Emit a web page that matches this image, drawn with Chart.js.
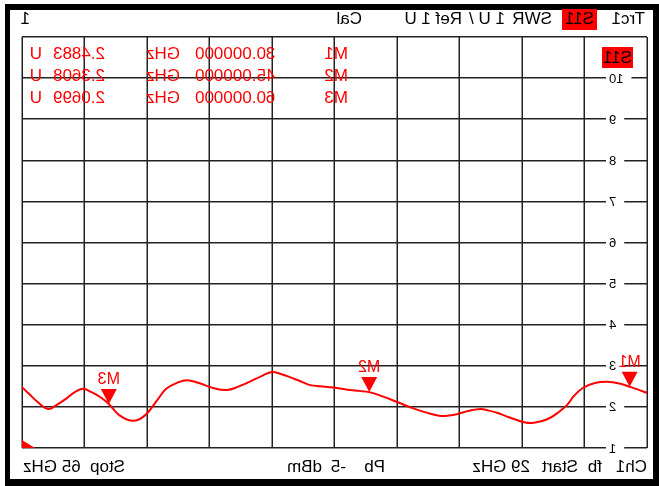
<!DOCTYPE html>
<html>
<head>
<meta charset="utf-8">
<style>
html, body { margin: 0; padding: 0; background: #fff; }
#wrap { width: 659px; height: 486px; transform: scaleX(-1); }
canvas { display: block; }
</style>
<script src="https://cdn.jsdelivr.net/npm/chart.js"></script>
</head>
<body>
<div id="wrap"><canvas id="vna" width="659" height="486"></canvas></div>
<script>
// sweep 29..65 GHz, SWR trace (screen is mirrored, like the photo)
const startGHz = 29;
const stopGHz = 65;
const freqGHz = [29.0, 29.5, 30.0, 30.6, 31.3, 32.0, 32.7, 33.2, 33.6, 34.1, 34.6, 35.1, 35.6, 36.0, 36.5, 37.1, 37.6, 38.1, 38.6, 39.3, 39.9, 40.4, 40.9, 41.7, 42.5, 43.4, 44.2, 45.0, 45.6, 46.1, 46.7, 47.3, 47.8, 48.4, 49.0, 49.6, 50.1, 50.6, 51.2, 51.9, 52.5, 53.2, 54.0, 54.8, 55.5, 56.1, 56.7, 57.2, 57.9, 58.6, 59.4, 60.0, 60.5, 61.0, 61.5, 62.0, 62.4, 63.0, 63.5, 64.1, 64.6, 65.0];
const swr = [2.34, 2.42, 2.49, 2.57, 2.61, 2.58, 2.46, 2.27, 2.05, 1.87, 1.73, 1.65, 1.61, 1.62, 1.68, 1.77, 1.85, 1.91, 1.95, 1.90, 1.83, 1.79, 1.78, 1.86, 1.97, 2.12, 2.25, 2.36, 2.39, 2.41, 2.45, 2.48, 2.50, 2.53, 2.63, 2.73, 2.80, 2.85, 2.75, 2.61, 2.50, 2.41, 2.46, 2.58, 2.65, 2.58, 2.44, 2.17, 1.80, 1.66, 1.80, 2.07, 2.24, 2.36, 2.44, 2.35, 2.22, 2.05, 1.95, 2.12, 2.32, 2.48];

const markerNames = ['M1', 'M2', 'M3'];
const markerFreq = [30, 45, 60];
const markerSwr = [2.4883, 2.3608, 2.0699];

const yTicks = [1, 2, 3, 4, 5, 6, 7, 8, 9, 10];
const xDivisions = 10;

const RED = '#ff0000';
const GRID = '#222';
const FONT = '"Liberation Sans", Arial, sans-serif';

const vnaScreen = {
  id: 'vnaScreen',
  beforeDraw(chart) {
    const c = chart.ctx;
    c.save();
    c.fillStyle = '#fff';
    c.fillRect(0, 0, chart.width, chart.height);
    // instrument frame
    c.fillStyle = '#000';
    c.fillRect(0, 4, 654, 482);
    c.fillStyle = '#fff';
    c.fillRect(6, 10, 643, 469);

    c.textBaseline = 'middle';
    c.font = '17px ' + FONT;
    c.fillStyle = '#000';
    c.fillText('Trc1', 14, 19);
    c.fillStyle = RED;
    c.fillRect(62, 9, 35, 21);
    c.fillStyle = '#000';
    c.fillText('S11', 65, 19);
    c.fillText('SWR', 107, 19);
    c.fillText('1 U /', 154, 19);
    c.fillText('Ref 1 U', 197, 19);
    c.fillText('Cal', 297, 19);
    c.fillText('1', 629, 19);

    // footer
    c.fillText('Ch1', 12, 467);
    c.fillText('fb', 57, 467);
    c.fillText('Start', 81, 467);
    c.fillText('29 GHz', 129, 467);
    c.fillText('Pb', 274, 467);
    c.fillText('-5', 313, 467);
    c.fillText('dBm', 337, 467);
    c.textAlign = 'right';
    c.fillText('Stop  ' + stopGHz + ' GHz', 636, 467);
    c.restore();
  },
  beforeDatasetsDraw(chart) {
    const c = chart.ctx;
    c.save();
    c.textBaseline = 'middle';
    c.font = '17px ' + FONT;
    c.fillStyle = RED;
    markerNames.forEach((m, i) => {
      const y = 54 + i * 22;
      c.textAlign = 'left';
      c.fillText(m, 311, y);
      c.textAlign = 'right';
      c.fillText(markerFreq[i].toFixed(6), 464, y);
      c.textAlign = 'left';
      c.fillText('GHz', 479, y);
      c.textAlign = 'right';
      c.fillText(markerSwr[i].toFixed(4), 606, y);
      c.textAlign = 'left';
      c.fillText('U', 617, y);
    });
    // trace label
    c.fillStyle = RED;
    c.fillRect(26, 47, 31, 21);
    c.fillStyle = '#000';
    c.textAlign = 'left';
    c.fillText('S11', 27, 58);
    c.restore();
  },
  afterDatasetsDraw(chart) {
    const c = chart.ctx;
    const xs = chart.scales.x, ys = chart.scales.y;
    c.save();
    // y labels sitting on the grid lines
    c.font = '13px ' + FONT;
    c.textBaseline = 'middle';
    c.textAlign = 'right';
    yTicks.forEach(v => {
      const y = ys.getPixelForValue(v);
      const w = c.measureText(String(v)).width;
      c.fillStyle = '#fff';
      c.fillRect(50 - w - 8, y - 2, w + 11, 4);
      c.fillStyle = '#000';
      c.fillText(String(v), 50, y + 1);
    });
    // markers
    c.font = '16px ' + FONT;
    c.textAlign = 'center';
    c.textBaseline = 'bottom';
    markerNames.forEach((m, i) => {
      const px = xs.getPixelForValue(markerFreq[i]);
      const py = ys.getPixelForValue(markerSwr[i]);
      c.fillStyle = RED;
      c.beginPath();
      c.moveTo(px, py);
      c.lineTo(px - 8, py - 15);
      c.lineTo(px + 8, py - 15);
      c.closePath();
      c.fill();
      c.fillText(m, px, py - 16);
    });
    // reference level arrow
    const ry = ys.getPixelForValue(1);
    const rx = chart.chartArea.right;
    c.beginPath();
    c.moveTo(rx, ry - 8);
    c.lineTo(rx, ry);
    c.lineTo(rx - 13, ry);
    c.closePath();
    c.fill();
    c.restore();
  }
};

new Chart(document.getElementById('vna'), {
  type: 'line',
  data: {
    labels: freqGHz,
    datasets: [{
      data: freqGHz.map((f, i) => ({ x: f, y: swr[i] })),
      borderColor: RED,
      borderWidth: 2,
      pointRadius: 0,
      tension: 0.4,
      fill: false
    }]
  },
  options: {
    responsive: false,
    animation: false,
    layout: { padding: { left: 12, right: 22, top: 37, bottom: 38 } },
    plugins: { legend: { display: false }, tooltip: { enabled: false } },
    scales: {
      x: {
        type: 'linear',
        min: startGHz,
        max: stopGHz,
        border: { display: false },
        grid: { color: GRID, lineWidth: 1.5, drawTicks: false },
        ticks: { display: false },
        afterBuildTicks: s => {
          const step = (stopGHz - startGHz) / xDivisions;
          s.ticks = Array.from({ length: xDivisions + 1 }, (_, k) => ({ value: startGHz + k * step }));
        }
      },
      y: {
        min: 1,
        max: 11,
        border: { display: false },
        grid: { color: GRID, lineWidth: 1.5, drawTicks: false },
        ticks: { display: false, stepSize: 1 }
      }
    }
  },
  plugins: [vnaScreen]
});
</script>
</body>
</html>
